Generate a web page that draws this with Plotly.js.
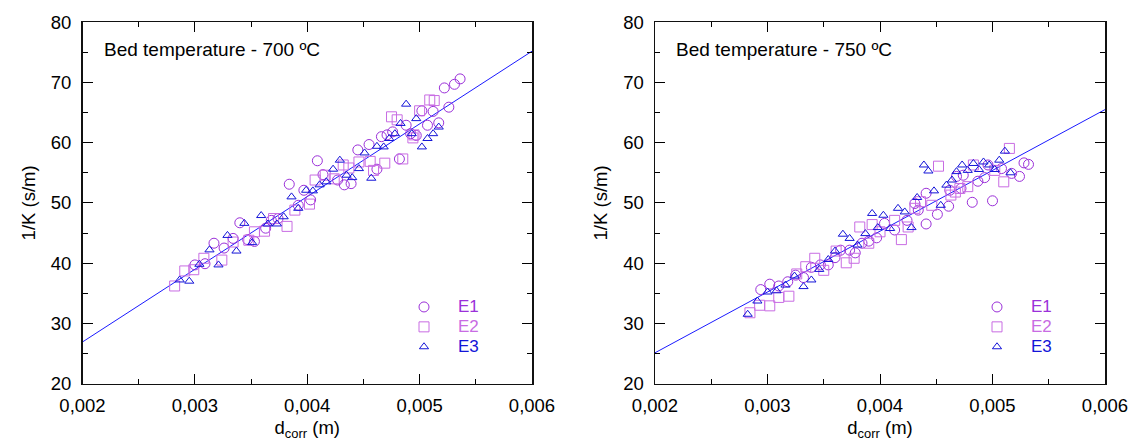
<!DOCTYPE html>
<html>
<head>
<meta charset="utf-8">
<script src="https://cdn.plot.ly/plotly-3.0.1.min.js"></script>
<style>html,body{margin:0;padding:0;background:#fff;}#chart{width:1137px;height:441px;}</style>
</head>
<body>
<div id="chart"></div>
<script>
// ---- Data: Bed temperature 700 ºC ----
const e1x700 = [0.00300,0.00309,0.00317,0.00326,0.00334,0.00340,0.00347,0.00353,0.00363,0.00368,0.00374,0.00384,0.00392,0.00397,0.00403,0.00409,0.00414,0.00427,0.00433,0.00439,0.00445,0.00455,0.00462,0.00466,0.00471,0.00476,0.00482,0.00488,0.00492,0.00497,0.00502,0.00507,0.00512,0.00517,0.00522,0.00526,0.00531,0.00536];
const e1y700 = [39.7,39.9,43.3,42.5,44.1,46.7,43.9,43.6,45.8,47.1,47.4,53.1,49.6,52.1,50.5,57.0,54.7,53.8,53.0,53.2,58.8,59.7,55.6,61.0,61.3,61.8,57.3,62.9,61.5,61.2,65.3,62.9,65.2,63.3,69.1,65.9,69.7,70.6];
const e2x700 = [0.00282,0.00291,0.00299,0.00308,0.00324,0.00334,0.00348,0.00353,0.00362,0.00370,0.00382,0.00389,0.00402,0.00407,0.00416,0.00424,0.00432,0.00437,0.00446,0.00456,0.00459,0.00469,0.00475,0.00480,0.00485,0.00494,0.00495,0.00500,0.00509,0.00513];
const e2y700 = [36.2,38.7,38.9,40.8,40.5,43.5,43.8,45.2,45.3,47.4,46.1,48.8,49.8,53.8,54.6,54.0,56.3,55.8,56.8,56.9,55.4,56.6,64.3,63.8,57.3,60.8,61.3,65.3,67.1,67.0];
const e3x700 = [0.002865,0.00295,0.00304,0.00313,0.00321,0.00329,0.00337,0.00344,0.00351,0.00359,0.00365,0.00373,0.00379,0.00386,0.00392,0.00399,0.00405,0.00411,0.00417,0.00423,0.00429,0.00435,0.00440,0.00446,0.00451,0.00457,0.00462,0.00468,0.00473,0.00478,0.00483,0.00488,0.00493,0.00497,0.00502,0.00507,0.00512,0.00517];
const e3y700 = [37.2,37.0,39.8,42.2,39.7,44.6,42.0,46.6,43.4,47.9,46.5,46.5,47.7,51.0,49.1,52.1,52.0,53.0,53.5,55.6,57.1,54.6,54.2,55.7,58.3,54.1,59.4,59.3,60.7,61.5,63.2,66.4,61.5,64.0,59.3,60.7,61.5,62.6];

// ---- Data: Bed temperature 750 ºC ----
const e1x750 = [0.00294,0.00302,0.00310,0.00318,0.00325,0.00332,0.00339,0.00347,0.00354,0.00360,0.00365,0.00373,0.00378,0.00384,0.00390,0.00397,0.00404,0.00413,0.00424,0.00431,0.00434,0.00441,0.00441,0.00451,0.00461,0.00462,0.00468,0.00472,0.00474,0.00482,0.00487,0.00493,0.00496,0.00500,0.00508,0.00517,0.00524,0.00528,0.00532];
const e1y750 = [35.6,36.5,36.2,36.9,38.0,37.6,39.3,39.7,39.7,40.9,42.15,42.15,41.7,43.3,43.65,44.2,46.6,45.5,47.1,49.9,48.8,46.5,51.6,48.1,49.45,52.1,54.4,52.4,54.6,50.1,53.6,54.2,56.3,50.35,55.7,54.9,54.4,56.65,56.4];
const e2x750 = [0.002844,0.00293,0.00302,0.00310,0.00319,0.00326,0.00334,0.00342,0.00350,0.00361,0.00370,0.00377,0.00382,0.00390,0.00393,0.00400,0.00413,0.00419,0.00425,0.00431,0.00436,0.00446,0.00452,0.00463,0.00467,0.00471,0.00478,0.00483,0.00502,0.00510,0.00515];
const e2y750 = [31.75,33.0,32.9,34.3,34.5,38.2,39.4,40.8,38.8,42.0,40.05,40.8,46.0,43.3,46.4,45.2,47.1,43.9,46.0,49.1,50.2,49.6,56.1,51.3,51.8,52.4,52.7,56.3,55.4,53.5,59.05];
const e3x750 = [0.002824,0.00291,0.00300,0.00308,0.00316,0.00324,0.00332,0.00339,0.00346,0.00354,0.00360,0.00367,0.00373,0.00380,0.00387,0.00393,0.00398,0.00403,0.00409,0.00416,0.00422,0.00428,0.00433,0.00439,0.00443,0.00448,0.00454,0.00459,0.00464,0.00468,0.00473,0.00478,0.00483,0.00488,0.00492,0.00497,0.00502,0.00506,0.00511,0.00516];
const e3y750 = [31.5,33.7,35.2,35.4,36.35,37.85,36.1,37.2,38.95,40.6,42.0,44.8,44.1,43.0,44.9,48.25,45.9,47.95,45.75,49.1,48.5,45.9,50.9,56.3,55.3,52.0,49.6,52.95,53.8,55.2,56.3,55.4,56.55,55.55,56.8,56.3,55.55,57.1,58.6,55.0];

// ---- Fitted lines ----
const fitX = [0.002, 0.006];
const fit700 = [26.9, 75.2];
const fit750 = [25.1, 65.5];

// ---- Labels ----
const seriesNames = ['E1', 'E2', 'E3'];
const panelTitles = ['Bed temperature - 700 ºC', 'Bed temperature - 750 ºC'];
const xTitle = 'd<sub>corr</sub> (m)';
const yTitle = '1/K (s/m)';

const colors = ['#9b30d9', '#c86ce3', '#1414d8'];
const symbols = ['circle-open', 'square-open', 'triangle-up-open'];
const sizes = [10, 10, 8];
const FONT = 'Liberation Sans, Arial, sans-serif';

function pts(x, y, i, xa, ya, lg) {
  return {
    x: x, y: y, xaxis: xa, yaxis: ya, type: 'scatter', mode: 'markers',
    name: '<span style="color:' + colors[i] + ';font-size:17px">' + seriesNames[i] + '</span>',
    legend: lg,
    marker: {symbol: symbols[i], size: sizes[i], color: colors[i], line: {color: colors[i], width: 1}},
    hoverinfo: 'x+y'
  };
}
function fit(y, xa, ya) {
  return {x: fitX, y: y, xaxis: xa, yaxis: ya, type: 'scatter', mode: 'lines',
          line: {color: '#1a1aff', width: 1}, showlegend: false, hoverinfo: 'skip'};
}

const data = [
  fit(fit700, 'x', 'y'),
  pts(e1x700, e1y700, 0, 'x', 'y', 'legend'),
  pts(e2x700, e2y700, 1, 'x', 'y', 'legend'),
  pts(e3x700, e3y700, 2, 'x', 'y', 'legend'),
  fit(fit750, 'x2', 'y2'),
  pts(e1x750, e1y750, 0, 'x2', 'y2', 'legend2'),
  pts(e2x750, e2y750, 1, 'x2', 'y2', 'legend2'),
  pts(e3x750, e3y750, 2, 'x2', 'y2', 'legend2')
];

function xaxis(dom, anchor) {
  return {
    domain: dom, anchor: anchor, range: [0.002, 0.006],
    tickvals: [0.002, 0.003, 0.004, 0.005, 0.006], tickformat: '.3f',
    ticks: 'inside', ticklen: 10, tickwidth: 1, tickcolor: '#000',
    minor: {dtick: 0.0005, tick0: 0.002, ticks: 'inside', ticklen: 5, tickwidth: 1, tickcolor: '#000'},
    showline: true, linecolor: '#111', linewidth: 1.5, mirror: 'allticks',
    showgrid: false, zeroline: false,
    tickfont: {family: FONT, size: 18.5, color: '#000'},
    ticklabelstandoff: 5,
    title: {text: xTitle, font: {family: FONT, size: 18.5, color: '#000'}, standoff: 18},
    automargin: false
  };
}
function yaxis(dom, anchor) {
  return {
    domain: dom, anchor: anchor, range: [20, 80],
    tickvals: [20, 30, 40, 50, 60, 70, 80],
    ticks: 'inside', ticklen: 10, tickwidth: 1, tickcolor: '#000',
    minor: {dtick: 5, tick0: 20, ticks: 'inside', ticklen: 5, tickwidth: 1, tickcolor: '#000'},
    showline: true, linecolor: '#111', linewidth: 1.5, mirror: 'allticks',
    showgrid: false, zeroline: false,
    tickfont: {family: FONT, size: 18.5, color: '#000'},
    ticklabelstandoff: 6,
    title: {text: yTitle, font: {family: FONT, size: 18.5, color: '#000'}, standoff: 10},
    automargin: false
  };
}

const yDom = [1 - 383.5 / 441, 1 - 22.3 / 441];
const legendBase = {xanchor: 'left', yanchor: 'top', font: {family: FONT, size: 13},
                    bgcolor: 'rgba(0,0,0,0)', itemwidth: 58, tracegroupgap: 0};
const layout = {
  width: 1137, height: 441,
  margin: {l: 0, r: 0, t: 0, b: 0},
  paper_bgcolor: '#fff', plot_bgcolor: '#fff',
  separators: ', ',
  font: {family: FONT, size: 18, color: '#000'},
  xaxis: xaxis([82.5 / 1137, 532 / 1137], 'y'),
  yaxis: yaxis(yDom, 'x'),
  xaxis2: xaxis([655 / 1137, 1105 / 1137], 'y2'),
  yaxis2: yaxis(yDom, 'x2'),
  legend: Object.assign({x: 390 / 1137, y: 1 - 292 / 441}, legendBase),
  legend2: Object.assign({x: 963 / 1137, y: 1 - 292 / 441}, legendBase),
  annotations: [
    {text: panelTitles[0], xref: 'x domain', yref: 'y domain', x: 0.043, y: 0.926,
     xanchor: 'left', yanchor: 'middle', showarrow: false, font: {family: FONT, size: 19, color: '#000'}},
    {text: panelTitles[1], xref: 'x2 domain', yref: 'y2 domain', x: 0.043, y: 0.926,
     xanchor: 'left', yanchor: 'middle', showarrow: false, font: {family: FONT, size: 19, color: '#000'}}
  ],
  showlegend: true
};

Plotly.newPlot('chart', data, layout, {displayModeBar: false, staticPlot: true});
</script>
</body>
</html>
